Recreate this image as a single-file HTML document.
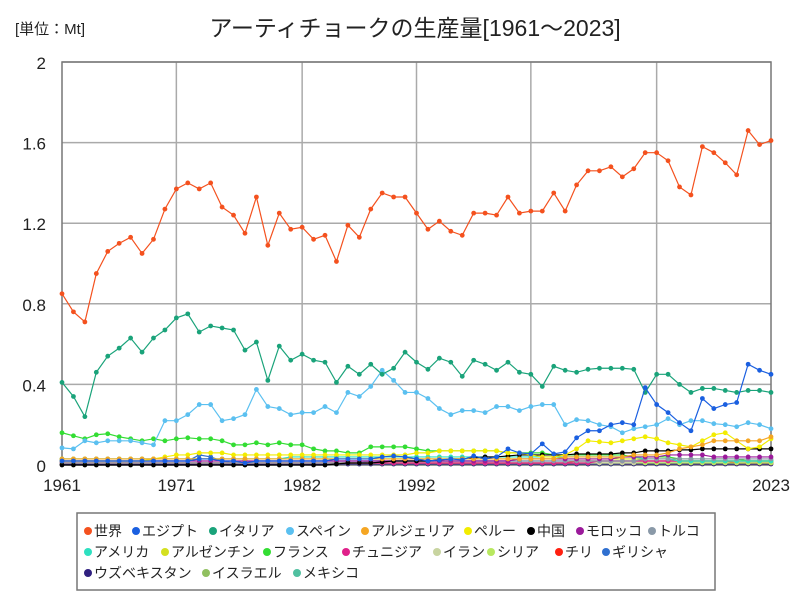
<!DOCTYPE html>
<html><head><meta charset="utf-8">
<style>
body{margin:0;background:#fff;}
svg{display:block;font-family:"Liberation Sans","Noto Sans CJK JP",sans-serif;}
</style></head>
<body>
<svg id="chart" width="800" height="600" viewBox="0 0 800 600">
<text x="15" y="34" font-size="15" fill="#222">[単位：Mt]</text>
<text x="415" y="36" font-size="23" fill="#222" text-anchor="middle">アーティチョークの生産量[1961～2023]</text>
<g id="grid"></g>
<g id="series"></g>
<g id="legend"></g>
</svg>
<script>
const years=[];for(let y=1961;y<=2023;y++)years.push(y);
const xTickYears=[1961,1971,1982,1992,2002,2013,2023];
const yTicks=[0,0.4,0.8,1.2,1.6,2];
const yTickLabels=["0","0.4","0.8","1.2","1.6","2"];
const world=[.85,.76,.71,.95,1.06,1.10,1.13,1.05,1.12,1.27,1.37,1.40,1.37,1.40,1.28,1.24,1.15,1.33,1.09,1.25,1.17,1.18,1.12,1.14,1.01,1.19,1.13,1.27,1.35,1.33,1.33,1.25,1.17,1.21,1.16,1.14,1.25,1.25,1.24,1.33,1.25,1.26,1.26,1.35,1.26,1.39,1.46,1.46,1.48,1.43,1.47,1.55,1.55,1.51,1.38,1.34,1.58,1.55,1.50,1.44,1.66,1.59,1.61];
const egypt=[.02,.02,.02,.02,.02,.02,.02,.02,.02,.02,.02,.02,.03,.03,.02,.02,.01,.02,.02,.02,.02,.02,.02,.02,.03,.03,.03,.03,.04,.045,.04,.03,.02,.025,.03,.025,.045,.03,.04,.08,.06,.055,.105,.055,.065,.135,.17,.17,.20,.21,.20,.384,.30,.26,.21,.17,.33,.28,.30,.31,.50,.47,.45];
const italy=[.41,.34,.24,.46,.54,.58,.63,.56,.63,.67,.73,.75,.66,.69,.68,.67,.57,.61,.42,.59,.52,.55,.52,.51,.41,.49,.45,.50,.45,.48,.56,.51,.475,.53,.51,.44,.52,.50,.47,.51,.46,.45,.39,.49,.47,.46,.475,.48,.48,.48,.475,.36,.45,.45,.40,.36,.38,.38,.37,.36,.37,.37,.36];
const spain=[.085,.08,.12,.11,.12,.12,.12,.11,.10,.22,.22,.25,.30,.30,.22,.23,.25,.375,.29,.28,.25,.26,.26,.29,.26,.36,.34,.39,.47,.42,.36,.36,.33,.28,.25,.27,.27,.26,.29,.29,.27,.29,.30,.30,.20,.225,.22,.20,.19,.16,.18,.19,.20,.23,.20,.22,.22,.205,.20,.19,.21,.20,.18];
const algeria=[.03,.03,.03,.03,.03,.03,.03,.03,.03,.03,.03,.03,.03,.03,.03,.03,.03,.03,.03,.03,.03,.03,.03,.03,.03,.03,.03,.03,.03,.03,.03,.03,.03,.03,.03,.03,.03,.03,.03,.03,.03,.03,.03,.03,.04,.04,.04,.04,.04,.04,.05,.05,.05,.06,.08,.09,.10,.12,.12,.12,.12,.12,.14];
const peru=[.02,.02,.02,.02,.02,.02,.02,.02,.03,.04,.05,.05,.06,.06,.06,.05,.05,.05,.05,.05,.05,.05,.05,.05,.05,.05,.05,.05,.05,.05,.05,.06,.06,.07,.07,.07,.07,.07,.07,.06,.06,.05,.04,.04,.05,.08,.12,.115,.11,.12,.13,.14,.13,.11,.10,.09,.12,.15,.16,.12,.08,.09,.13];
const china=[0,0,0,0,0,0,0,0,0,0,0,0,0,0,0,0,0,0,0,0,0,0,0,0,.005,.01,.01,.01,.015,.02,.02,.02,.02,.025,.03,.03,.035,.04,.04,.045,.05,.05,.05,.05,.05,.055,.055,.055,.055,.06,.06,.07,.07,.07,.075,.075,.08,.08,.08,.08,.08,.08,.08];
const morocco=[.02,.02,.02,.02,.02,.02,.02,.02,.02,.02,.02,.02,.02,.02,.02,.02,.02,.02,.02,.02,.02,.02,.02,.02,.02,.02,.02,.02,.02,.02,.02,.02,.02,.02,.02,.02,.02,.02,.02,.02,.03,.03,.03,.03,.03,.03,.03,.03,.03,.04,.04,.04,.04,.05,.05,.05,.05,.04,.04,.04,.04,.04,.04];
const turkey=[.01,.01,.01,.01,.01,.01,.01,.01,.01,.01,.01,.01,.01,.01,.01,.01,.01,.01,.01,.01,.01,.01,.01,.01,.01,.01,.01,.02,.02,.02,.02,.02,.02,.02,.02,.02,.02,.02,.02,.02,.02,.02,.02,.02,.02,.02,.02,.02,.02,.02,.02,.03,.03,.03,.03,.03,.03,.03,.03,.03,.03,.03,.03];
const usa=[.03,.03,.03,.03,.03,.03,.03,.03,.03,.03,.03,.03,.03,.03,.03,.03,.03,.03,.03,.03,.04,.04,.04,.04,.04,.04,.04,.04,.04,.04,.04,.04,.04,.04,.04,.04,.04,.04,.04,.04,.04,.04,.04,.04,.04,.04,.04,.04,.04,.04,.04,.03,.03,.03,.02,.02,.02,.02,.02,.02,.02,.02,.02];
const argentina=[.03,.03,.03,.03,.03,.03,.03,.03,.03,.03,.03,.03,.03,.03,.03,.03,.03,.03,.03,.03,.03,.03,.03,.03,.03,.03,.03,.03,.03,.03,.03,.03,.03,.03,.03,.03,.03,.03,.03,.03,.03,.03,.03,.03,.03,.03,.03,.03,.03,.03,.03,.03,.03,.03,.02,.02,.02,.02,.02,.02,.02,.02,.02];
const france=[.16,.145,.13,.15,.155,.14,.13,.12,.13,.12,.13,.135,.13,.13,.12,.10,.10,.11,.10,.11,.10,.10,.08,.07,.07,.06,.06,.09,.09,.09,.09,.08,.07,.07,.07,.07,.07,.07,.07,.06,.06,.06,.06,.05,.05,.05,.05,.05,.05,.05,.04,.04,.04,.04,.03,.03,.03,.03,.03,.03,.02,.02,.02];
const tunisia=[.01,.01,.01,.01,.01,.01,.01,.01,.01,.01,.01,.01,.01,.01,.01,.01,.01,.01,.01,.01,.01,.01,.01,.01,.01,.01,.01,.01,.01,.01,.01,.01,.01,.01,.01,.01,.01,.01,.01,.01,.01,.01,.01,.01,.01,.01,.01,.02,.02,.02,.02,.02,.02,.02,.02,.02,.02,.02,.02,.02,.02,.02,.02];
const iran=[.01,.01,.01,.01,.01,.01,.01,.01,.01,.01,.01,.01,.01,.01,.01,.01,.01,.01,.01,.01,.01,.01,.01,.01,.01,.01,.01,.01,.01,.01,.01,.01,.01,.01,.01,.01,.01,.01,.01,.01,.01,.01,.01,.01,.01,.01,.01,.01,.01,.01,.01,.02,.02,.02,.02,.02,.02,.02,.02,.02,.02,.02,.02];
const syria=[.01,.01,.01,.01,.01,.01,.01,.01,.01,.01,.01,.01,.01,.01,.01,.01,.01,.01,.01,.01,.01,.01,.01,.01,.01,.01,.01,.01,.01,.01,.01,.01,.01,.01,.01,.01,.01,.01,.01,.01,.01,.01,.01,.01,.01,.01,.01,.01,.01,.01,.01,.01,.01,.01,.01,.01,.01,.01,.01,.01,.01,.01,.01];
const chile=[.01,.01,.01,.01,.01,.01,.01,.01,.01,.01,.01,.01,.01,.01,.01,.01,.01,.01,.01,.01,.01,.01,.01,.01,.01,.01,.01,.01,.01,.01,.01,.01,.01,.01,.01,.01,.01,.01,.01,.01,.01,.01,.01,.01,.01,.02,.02,.02,.02,.02,.02,.02,.02,.02,.02,.02,.02,.02,.02,.01,.01,.01,.01];
const greece=[.02,.02,.02,.02,.02,.02,.02,.02,.02,.02,.02,.02,.05,.04,.02,.01,.01,.02,.02,.02,.02,.02,.02,.02,.02,.02,.02,.02,.02,.02,.02,.02,.02,.02,.02,.02,.02,.02,.02,.02,.02,.02,.02,.02,.02,.02,.02,.02,.02,.02,.02,.02,.02,.02,.02,.02,.02,.02,.02,.02,.02,.02,.02];
const uzbek=[.005,.005,.005,.005,.005,.005,.005,.005,.005,.005,.005,.005,.005,.005,.005,.005,.005,.005,.005,.005,.005,.005,.005,.005,.005,.005,.005,.005,.005,.005,.005,.005,.005,.005,.005,.005,.005,.005,.005,.005,.005,.005,.005,.005,.005,.005,.005,.005,.005,.005,.005,.005,.005,.005,.005,.005,.005,.005,.005,.005,.005,.005,.005];
const israel=[.01,.01,.01,.01,.01,.01,.01,.01,.01,.01,.01,.01,.01,.01,.01,.01,.01,.01,.01,.01,.01,.01,.01,.01,.01,.01,.01,.01,.01,.01,.01,.01,.01,.01,.01,.01,.01,.01,.01,.01,.01,.01,.01,.01,.01,.01,.01,.01,.01,.01,.01,.01,.01,.01,.01,.01,.01,.01,.01,.01,.01,.01,.01];
const mexico=[.005,.005,.005,.005,.005,.005,.005,.005,.005,.005,.005,.005,.005,.005,.005,.005,.005,.005,.005,.005,.005,.005,.005,.005,.005,.005,.005,.005,.005,.005,.005,.005,.005,.005,.005,.005,.005,.005,.005,.005,.005,.005,.005,.005,.005,.005,.005,.005,.005,.005,.01,.01,.01,.01,.01,.01,.01,.01,.01,.01,.01,.01,.01];
const seriesNames=["世界","エジプト","イタリア","スペイン","アルジェリア","ペルー","中国","モロッコ","トルコ","アメリカ","アルゼンチン","フランス","チュニジア","イラン","シリア","チリ","ギリシャ","ウズベキスタン","イスラエル","メキシコ"];
const seriesValues=[world,egypt,italy,spain,algeria,peru,china,morocco,turkey,usa,argentina,france,tunisia,iran,syria,chile,greece,uzbek,israel,mexico];
const seriesSlugs=["world","egypt","italy","spain","algeria","peru","china","morocco","turkey","usa","argentina","france","tunisia","iran","syria","chile","greece","uzbekistan","israel","mexico"];
const colors=["#f4511e","#1a5fe0","#1aa37a","#5bc0f0","#f5a623","#f2ec00","#000000","#9b1a9b","#8a99a8","#2de0c0","#d4e020","#33dd33","#e0208a","#c8d4a0","#b8e860","#ff2010","#3070d0","#302080","#90c060","#50c0a0"];

const NS="http://www.w3.org/2000/svg";
const L=62,R=771,T=62,B=465;
const xs=y=>L+(y-1961)*(R-L)/(2023-1961);
const ys=v=>B-v*(B-T)/2;
function mk(tag,attrs,parent){const e=document.createElementNS(NS,tag);for(const k in attrs)e.setAttribute(k,attrs[k]);parent.appendChild(e);return e;}
const grid=document.getElementById('grid');
yTicks.forEach((v,i)=>{
  if(v>0){const l=mk('line',{x1:L,x2:R,y1:ys(v),y2:ys(v),stroke:'#aaa','stroke-width':1.5},grid);
  
  }
  const t=mk('text',{x:46,y:ys(v)+7,'font-size':17,'text-anchor':'end',fill:'#222'},grid);
  t.textContent=yTickLabels[i];
  
  
});
xTickYears.forEach(yr=>{
  if(yr>1961&&yr<2023){const l=mk('line',{x1:xs(yr),x2:xs(yr),y1:T,y2:B,stroke:'#aaa','stroke-width':1.5},grid);
  
  }
  const t=mk('text',{x:xs(yr),y:491,'font-size':17,'text-anchor':'middle',fill:'#222'},grid);
  t.textContent=yr;
  
  
});
const frame=mk('rect',{x:L,y:T,width:R-L,height:B-T,fill:'none',stroke:'#777','stroke-width':1.5},grid);



const sg=document.getElementById('series');
for(let s=seriesValues.length-1;s>=0;s--){
  const vals=seriesValues[s];
  const g=mk('g',{},sg);
  
  
  const p=mk('polyline',{points:vals.map((v,i)=>xs(years[i])+','+ys(v)).join(' '),fill:'none',stroke:colors[s],'stroke-width':1.2},g);
  
  
  vals.forEach((v,i)=>{
    const c=mk('circle',{cx:xs(years[i]),cy:ys(v),r:2.4,fill:colors[s]},g);
    
    
  });
}
const lg=document.getElementById('legend');
const box=mk('rect',{x:77,y:513,width:638,height:77,fill:'#fff',stroke:'#777','stroke-width':1.5},lg);


const legendX=[88,136,213,290,365,468,531,580,652,88,165,267,346,437,491,559,606,88,206,297];
const legendRow=[0,0,0,0,0,0,0,0,0,1,1,1,1,1,1,1,1,2,2,2];
seriesNames.forEach((n,i)=>{
  const y=531+legendRow[i]*21;
  const g=mk('g',{},lg);
  
  
  mk('circle',{cx:legendX[i],cy:y,r:4,fill:colors[i]},g);
  const t=mk('text',{x:legendX[i]+6,y:y+5,'font-size':14,fill:'#222'},g);
  t.textContent=n;
});
</script>
</body></html>
